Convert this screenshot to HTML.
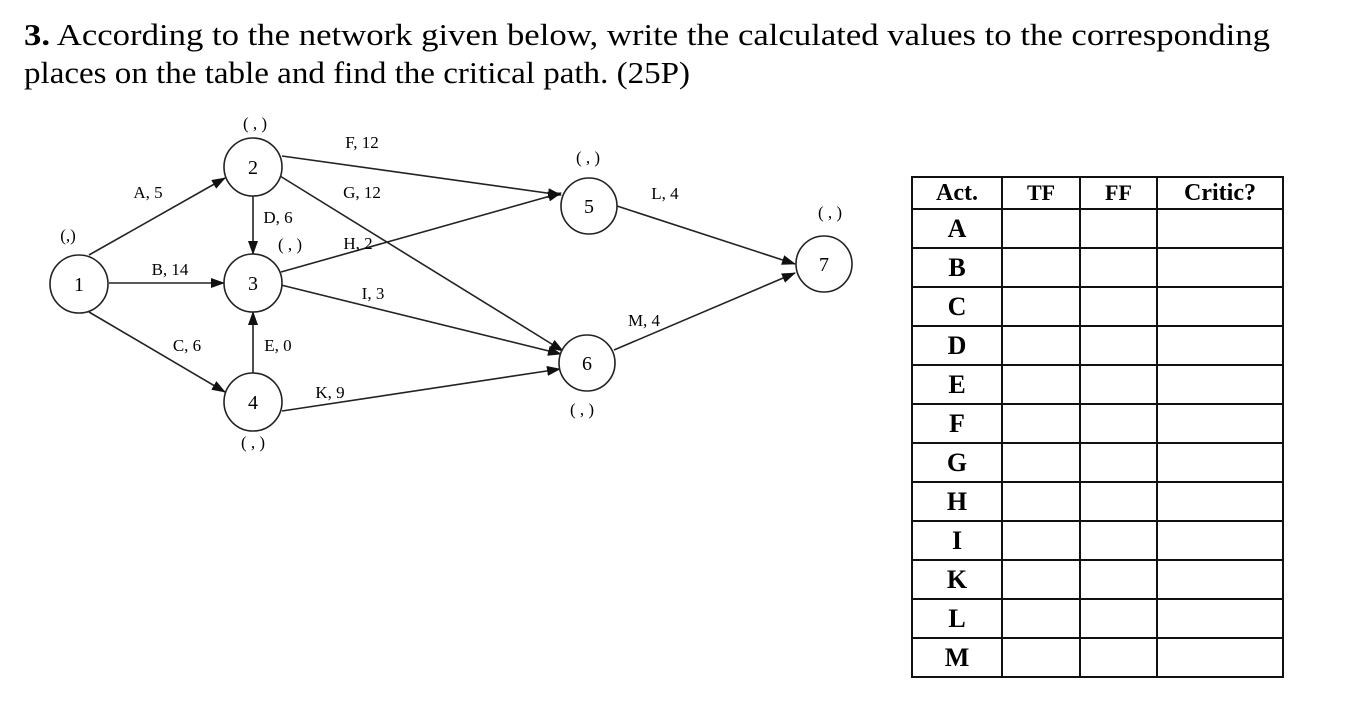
<!DOCTYPE html>
<html><head><meta charset="utf-8"><style>
body{margin:0;background:#fff;width:1355px;height:711px;overflow:hidden;position:relative;font-family:"Liberation Serif","Times New Roman","DejaVu Serif",serif;}
table{position:absolute;left:911px;top:176px;border-collapse:collapse;font-family:"Liberation Serif","Times New Roman","DejaVu Serif",serif;font-weight:bold;}
td{border:2px solid #111;padding:0;text-align:center;font-size:26px;height:37px;line-height:30px;}
</style></head><body>
<svg width="1355" height="100" style="position:absolute;left:0;top:0" font-family="'Liberation Serif','Times New Roman',serif" font-size="31">
<text x="24" y="45" textLength="1246" lengthAdjust="spacingAndGlyphs"><tspan font-weight="bold">3.</tspan> According to the network given below, write the calculated values to the corresponding</text>
<text x="24" y="83" textLength="666" lengthAdjust="spacingAndGlyphs">places on the table and find the critical path. (25P)</text>
</svg>
<svg width="900" height="711" style="position:absolute;left:0;top:0" font-family="'Liberation Serif','Times New Roman',serif" font-size="17">
<defs><marker id="a" markerWidth="14" markerHeight="10" refX="13" refY="5" orient="auto" markerUnits="userSpaceOnUse"><path d="M0,0L14,5L0,10z" fill="#111"/></marker></defs>
<g stroke="#222" stroke-width="1.6" fill="none">
<line x1="89" y1="255" x2="225" y2="178" marker-end="url(#a)"/>
<line x1="109" y1="283" x2="224" y2="283" marker-end="url(#a)"/>
<line x1="89" y1="312" x2="225" y2="392" marker-end="url(#a)"/>
<line x1="253" y1="196" x2="253" y2="254" marker-end="url(#a)"/>
<line x1="253" y1="373" x2="253" y2="312" marker-end="url(#a)"/>
<line x1="282" y1="156" x2="561" y2="195" marker-end="url(#a)"/>
<line x1="280" y1="176" x2="563" y2="351" marker-end="url(#a)"/>
<line x1="281" y1="272" x2="561" y2="193" marker-end="url(#a)"/>
<line x1="281" y1="285" x2="561" y2="354" marker-end="url(#a)"/>
<line x1="282" y1="411" x2="560" y2="369" marker-end="url(#a)"/>
<line x1="617" y1="206" x2="795" y2="264" marker-end="url(#a)"/>
<line x1="614" y1="350" x2="795" y2="273" marker-end="url(#a)"/>
<circle cx="79" cy="284" r="29" fill="#fff"/>
<circle cx="253" cy="167" r="29" fill="#fff"/>
<circle cx="253" cy="283" r="29" fill="#fff"/>
<circle cx="253" cy="402" r="29" fill="#fff"/>
<circle cx="589" cy="206" r="28" fill="#fff"/>
<circle cx="587" cy="363" r="28" fill="#fff"/>
<circle cx="824" cy="264" r="28" fill="#fff"/>
</g>
<g text-anchor="middle" font-size="20">
<text x="79" y="291">1</text><text x="253" y="174">2</text><text x="253" y="290">3</text><text x="253" y="409">4</text>
<text x="589" y="213">5</text><text x="587" y="370">6</text><text x="824" y="271">7</text>
</g>
<g text-anchor="middle">
<text x="255" y="129">( , )</text><text x="68" y="241">(,)</text><text x="290" y="250">( , )</text>
<text x="253" y="448">( , )</text><text x="588" y="163">( , )</text><text x="582" y="415">( , )</text><text x="830" y="218">( , )</text>
<text x="362" y="148">F, 12</text><text x="362" y="198">G, 12</text><text x="148" y="198">A, 5</text>
<text x="278" y="223">D, 6</text><text x="358" y="249">H, 2</text><text x="170" y="275">B, 14</text>
<text x="373" y="299">I, 3</text><text x="644" y="326">M, 4</text><text x="187" y="351">C, 6</text>
<text x="278" y="351">E, 0</text><text x="330" y="398">K, 9</text><text x="665" y="199">L, 4</text>
</g>
</svg>
<table>
<tr><td style="width:88px;height:30px;font-size:24px">Act.</td><td style="width:76px;height:30px;font-size:22px">TF</td><td style="width:75px;height:30px;font-size:22px">FF</td><td style="width:124px;height:30px;font-size:24px">Critic?</td></tr>
<tr><td>A</td><td></td><td></td><td></td></tr>
<tr><td>B</td><td></td><td></td><td></td></tr>
<tr><td>C</td><td></td><td></td><td></td></tr>
<tr><td>D</td><td></td><td></td><td></td></tr>
<tr><td>E</td><td></td><td></td><td></td></tr>
<tr><td>F</td><td></td><td></td><td></td></tr>
<tr><td>G</td><td></td><td></td><td></td></tr>
<tr><td>H</td><td></td><td></td><td></td></tr>
<tr><td>I</td><td></td><td></td><td></td></tr>
<tr><td>K</td><td></td><td></td><td></td></tr>
<tr><td>L</td><td></td><td></td><td></td></tr>
<tr><td>M</td><td></td><td></td><td></td></tr>
</table>
</body></html>
